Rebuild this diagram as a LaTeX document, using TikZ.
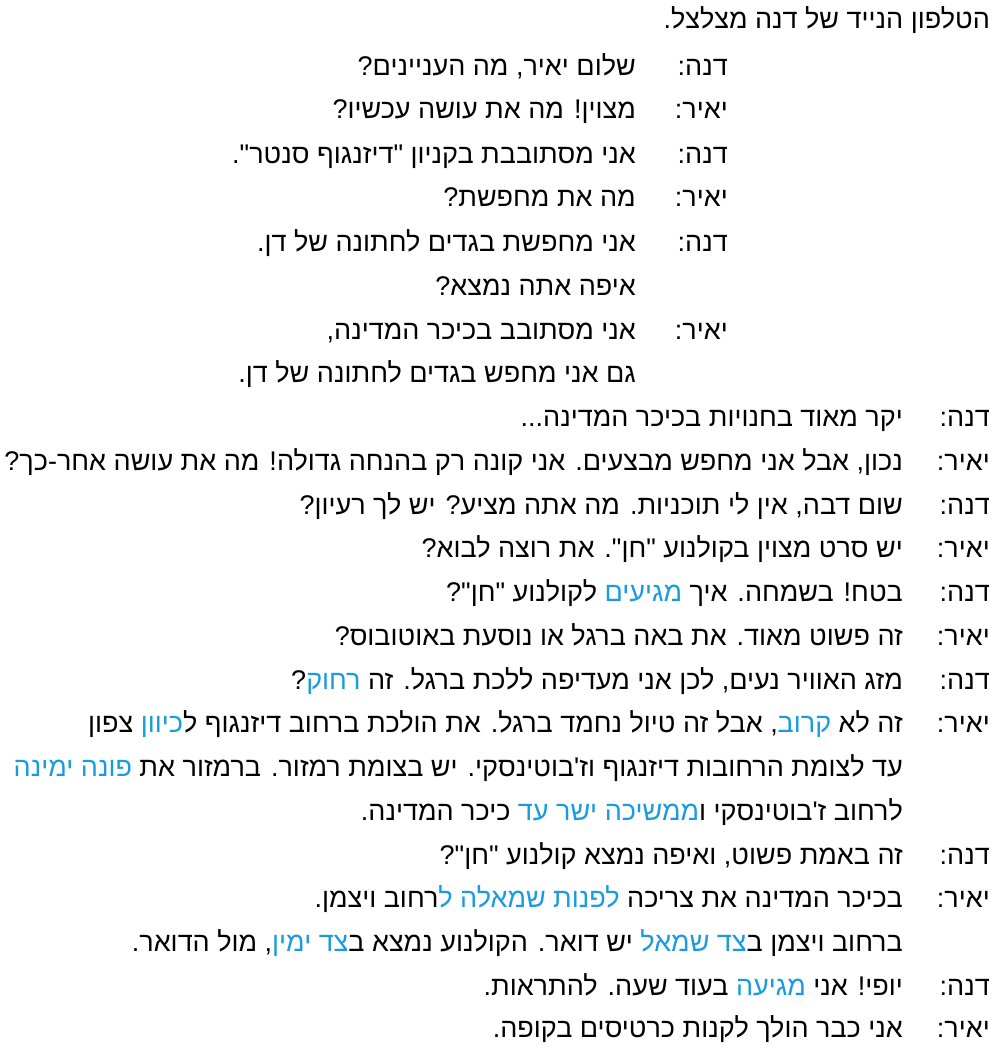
\documentclass[tikz,border=0pt]{standalone}
\usepackage{fontspec}
\TeXXeTstate=1
\newfontfamily\hebfont[Script=Hebrew]{Liberation Sans}
\definecolor{keyblue}{HTML}{1A9BE0}
\newcommand{\heb}[1]{\beginR #1\endR}
\newcommand{\seg}[1]{\hbox{\beginR #1\endR}}
\newcommand{\kw}[1]{\textcolor{keyblue}{\seg{#1}}}
\tikzset{
  line/.style={anchor=base east, inner sep=0pt, font=\hebfont\fontsize{27}{32}\selectfont},
}
\begin{document}
\begin{tikzpicture}[x=1pt,y=1pt]
  \useasboundingbox (0,0) rectangle (992,-1048);
  \node[line] (title) at (990,-29) {\heb{הטלפון הנייד של  דנה מצלצל.}};
  % first block
  \node[line] (s1) at (728,-76) {\heb{דנה:}};
  \node[line] (t1) at (636,-76) {\heb{שלום יאיר, מה העניינים?}};
  \node[line] (s2) at (728,-119) {\heb{יאיר:}};
  \node[line] (t2) at (636,-119) {\heb{מצוין! מה את עושה עכשיו?}};
  \node[line] (s3) at (728,-164) {\heb{דנה:}};
  \node[line] (t3) at (636,-164) {\heb{אני מסתובבת בקניון "דיזנגוף סנטר".}};
  \node[line] (s4) at (728,-207) {\heb{יאיר:}};
  \node[line] (t4) at (636,-207) {\heb{מה את מחפשת?}};
  \node[line] (s5) at (728,-252) {\heb{דנה:}};
  \node[line] (t5) at (636,-252) {\heb{אני מחפשת בגדים לחתונה של דן.}};
  \node[line] (t5b) at (636,-295) {\heb{איפה אתה נמצא?}};
  \node[line] (s6) at (728,-339) {\heb{יאיר:}};
  \node[line] (t6) at (636,-339) {\heb{אני מסתובב בכיכר המדינה,}};
  \node[line] (t6b) at (636,-382) {\heb{גם אני מחפש בגדים לחתונה של דן.}};
  % second block
  \node[line] (s7) at (990,-426) {\heb{דנה:}};
  \node[line] (t7) at (903,-426) {\heb{יקר מאוד בחנויות בכיכר המדינה...}};
  \node[line] (s8) at (990,-470) {\heb{יאיר:}};
  \node[line] (t8) at (903,-470) {\heb{נכון, אבל אני מחפש מבצעים. אני קונה רק בהנחה גדולה! מה את עושה אחר-כך?}};
  \node[line] (s9) at (990,-514) {\heb{דנה:}};
  \node[line] (t9) at (903,-514) {\heb{שום דבה, אין לי תוכניות. מה אתה מציע? יש לך רעיון?}};
  \node[line] (s10) at (990,-557) {\heb{יאיר:}};
  \node[line] (t10) at (903,-557) {\heb{יש סרט מצוין בקולנוע "חן". את רוצה לבוא?}};
  \node[line] (s11) at (990,-601) {\heb{דנה:}};
  \node[line] (t11) at (903,-601) {\seg{לקולנוע "חן"?} \kw{מגיעים} \seg{בטח! בשמחה. איך}};
  \node[line] (s12) at (990,-645) {\heb{יאיר:}};
  \node[line] (t12) at (903,-645) {\heb{זה פשוט מאוד. את באה ברגל או נוסעת באוטובוס?}};
  \node[line] (s13) at (990,-689) {\heb{דנה:}};
  \node[line] (t13) at (903,-689) {\seg{?}\kw{רחוק} \seg{מזג האוויר נעים, לכן אני מעדיפה ללכת ברגל. זה}};
  \node[line] (s14) at (990,-732) {\heb{יאיר:}};
  \node[line] (t14) at (903,-732) {\seg{צפון} \kw{כיוון}\seg{, אבל זה טיול נחמד ברגל. את הולכת ברחוב דיזנגוף ל}\kw{קרוב} \seg{זה לא}};
  \node[line] (t14b) at (903,-776) {\kw{פונה ימינה} \seg{עד לצומת הרחובות דיזנגוף וז'בוטינסקי. יש בצומת רמזור. ברמזור את}};
  \node[line] (t14c) at (903,-820) {\seg{כיכר המדינה.} \kw{ממשיכה ישר עד}\seg{לרחוב ז'בוטינסקי ו}};
  \node[line] (s15) at (990,-864) {\heb{דנה:}};
  \node[line] (t15) at (903,-864) {\heb{זה באמת פשוט, ואיפה נמצא קולנוע "חן"?}};
  \node[line] (s16) at (990,-907) {\heb{יאיר:}};
  \node[line] (t16) at (903,-907) {\seg{רחוב ויצמן.}\kw{לפנות שמאלה ל} \seg{בכיכר המדינה את צריכה}};
  \node[line] (t16b) at (903,-951) {\seg{, מול הדואר.}\kw{צד ימין}\seg{יש דואר. הקולנוע נמצא ב} \kw{צד שמאל}\seg{ברחוב ויצמן ב}};
  \node[line] (s17) at (990,-995) {\heb{דנה:}};
  \node[line] (t17) at (903,-995) {\seg{בעוד שעה. להתראות.} \kw{מגיעה} \seg{יופי! אני}};
  \node[line] (s18) at (990,-1037) {\heb{יאיר:}};
  \node[line] (t18) at (903,-1037) {\heb{אני כבר הולך לקנות כרטיסים בקופה.}};
\end{tikzpicture}
\end{document}
